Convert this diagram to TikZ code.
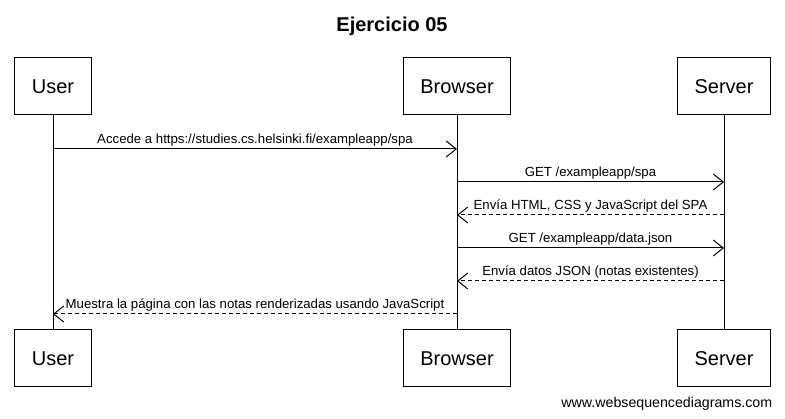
\documentclass[tikz,border=0pt]{standalone}
\usepackage{fontspec}
\setmainfont{Liberation Sans}
\usetikzlibrary{arrows.meta,positioning}

\begin{document}
\begin{tikzpicture}[x=1pt,y=-1pt,line width=1pt,actor/.style={draw,fill=white,minimum height=57pt,inner xsep=17pt,font=\fontsize{20}{24}\selectfont},msg/.style={-{Straight Barb[length=10pt,width=16pt,line width=1pt]}},reply/.style={msg,dash pattern=on 4pt off 3pt},lbl/.style={above=1pt,font=\fontsize{13.2}{15}\selectfont,inner sep=1pt}]
\useasboundingbox (0,0) rectangle (785,419);
\node[font=\bfseries\fontsize{20}{24}\selectfont] (title) at (392,26) {Ejercicio 05};
\node[actor] (uTop) at (53,86.5) {User};
\node[actor] (bTop) at (457,86.5) {Browser};
\node[actor] (sTop) at (724,86.5) {Server};
\node[actor,below=214pt of uTop] (uBot) {User};
\node[actor,below=214pt of bTop] (bBot) {Browser};
\node[actor,below=214pt of sTop] (sBot) {Server};
\draw (uTop)--(uBot); \draw (bTop)--(bBot); \draw (sTop)--(sBot);
\coordinate (m1) at (0,149); \coordinate (m2) at (0,182); \coordinate (m3) at (0,215);
\coordinate (m4) at (0,248); \coordinate (m5) at (0,281); \coordinate (m6) at (0,314);
\draw[msg] (uTop|-m1)--node[lbl]{Accede a https://studies.cs.helsinki.fi/exampleapp/spa}(bTop|-m1);
\draw[msg] (bTop|-m2)--node[lbl]{GET /exampleapp/spa}(sTop|-m2);
\draw[reply] (sTop|-m3)--node[lbl]{Envía HTML, CSS y JavaScript del SPA}(bTop|-m3);
\draw[msg] (bTop|-m4)--node[lbl]{GET /exampleapp/data.json}(sTop|-m4);
\draw[reply] (sTop|-m5)--node[lbl]{Envía datos JSON (notas existentes)}(bTop|-m5);
\draw[reply] (bTop|-m6)--node[lbl]{Muestra la página con las notas renderizadas usando JavaScript}(uTop|-m6);
\node[anchor=east,font=\fontsize{14.2}{16}\selectfont] (wsd) at (776,404) {www.websequencediagrams.com};
\end{tikzpicture}
\end{document}
